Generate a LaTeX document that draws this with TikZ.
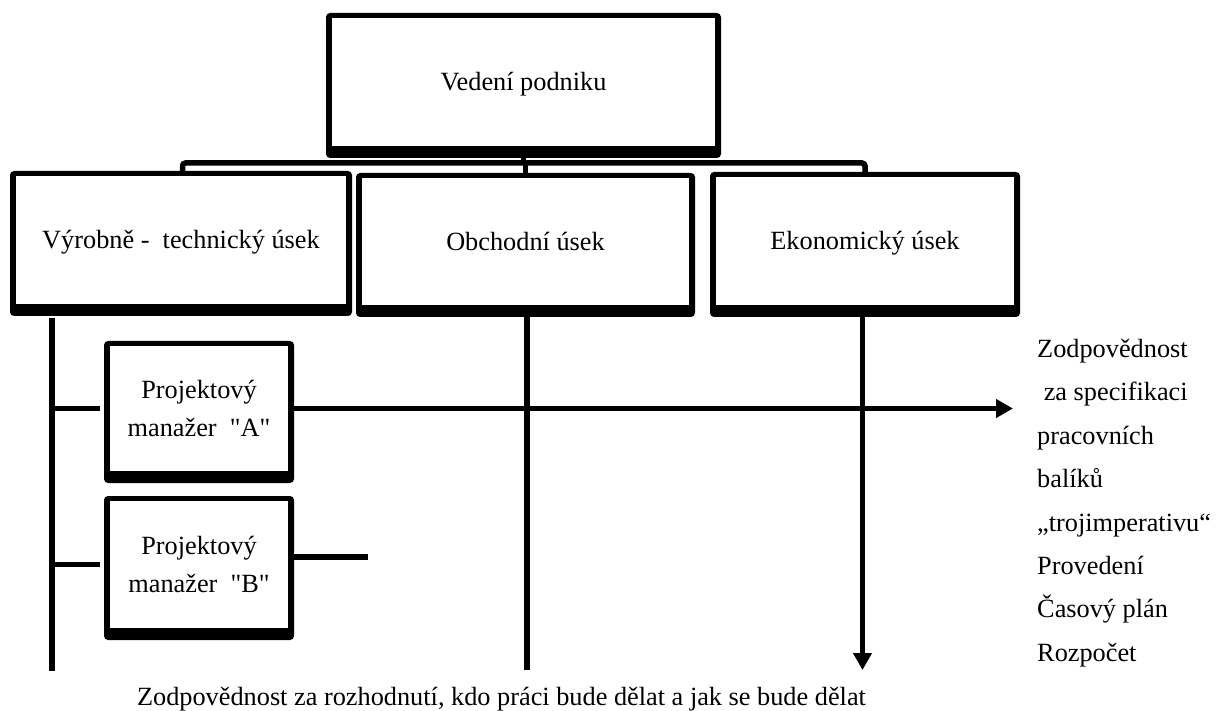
\documentclass[tikz,border=0pt]{standalone}
\usepackage{fontspec}
\setmainfont{Liberation Serif}[Ligatures=TeXOff]
\usetikzlibrary{arrows.meta}
\tikzset{
  frame/.style={fill=black, rounded corners=4pt},
  inbox/.style={fill=white, inner sep=0pt, font=\fontsize{26.3}{38}\selectfont},
  onel/.style={inbox, text height=18pt, text depth=0pt},
  twol/.style={inbox, align=center},
  conn/.style={line width=5.5pt, line cap=butt},
  tip/.style={-{Triangle[length=17pt,width=18pt]}},
}
% name, x1, y1, x2, y2, style, text   (pixel coordinates, y downward)
\newcommand{\shadowbox}[7]{%
  \fill[frame] (#2,#3) rectangle (#4,#5);
  \node[#6, minimum width={(#4-#2-12)*1pt}, minimum height={(#5-#3-17)*1pt}]
    (#1) at ({(#2+#4)/2},{(#3+#5)/2-3.5}) {#7};
}
\begin{document}
\begin{tikzpicture}[x=1pt,y=-1pt]
\useasboundingbox[fill=white] (0,0) rectangle (1229,711);

\coordinate (bus) at (0,163);
\coordinate (lvtop) at (52,318);
\coordinate (lvbot) at (52,671);
\coordinate (mend) at (0,670);
\coordinate (aend) at (1013,0);
\coordinate (bend) at (368,0);

\shadowbox{top}{326}{13}{721}{158}{onel}{Vedení podniku}
\shadowbox{b1}{10}{171}{352}{316}{onel}{Výrobně -\ \ technický úsek}
\shadowbox{b2}{356}{173}{695}{317}{onel}{Obchodní úsek}
\shadowbox{b3}{710}{172}{1020}{317}{onel}{Ekonomický úsek}
\shadowbox{pa}{104}{341}{294}{483}{twol}{Projektový\\manažer\ \ "A"}
\shadowbox{pb}{104}{496}{294}{640}{twol}{Projektový\\manažer\ \ "B"}

% tree connectors
\draw[conn, rounded corners=3pt] ([xshift=1.5pt]b1.north) -- ([xshift=1.5pt]b1.north |- bus)
   -- (b3.north |- bus) -- (b3.north);
\draw[conn] (b2.north) -- (b2.north |- bus);
\draw[conn] (top.south) -- (top.south |- bus);

% left vertical and branches
\draw[conn] (lvtop) -- (lvbot);
\draw[conn] (lvtop |- pa.west) -- ([xshift=-10pt]pa.west);
\draw[conn] (lvtop |- pb.west) -- ([xshift=-10pt]pb.west);

% PM A long arrow
\draw[conn, tip] ([xshift=6pt]pa.east) -- (pa.east -| aend);
% PM B short line
\draw[conn] ([xshift=6pt,yshift=7.5pt]pb.east) -- ([yshift=7.5pt]pb.east -| bend);

% vertical from Obchodní úsek
\draw[conn] ([xshift=1.5pt]b2.south) -- ([xshift=1.5pt]b2.south |- mend);
% arrow from Ekonomický úsek
\draw[conn, tip] ([xshift=-2.5pt]b3.south) -- ([xshift=-2.5pt]b3.south |- mend);

% right text
\node[anchor=north west, align=left, inner sep=0pt,
      font=\fontsize{26.3}{43.4}\selectfont] (rt) at (1037,339)
 {Zodpovědnost\\\hspace*{6.6pt}za specifikaci\\pracovních\\balíků\\„trojimperativu“\\Provedení\\Časový plán\\Rozpočet};

% bottom text
\node[anchor=base, inner sep=0pt, font=\fontsize{26.3}{38}\selectfont] (bt) at (501.5,705)
 {Zodpovědnost za rozhodnutí, kdo práci bude dělat a jak se bude dělat};
\end{tikzpicture}
\end{document}
